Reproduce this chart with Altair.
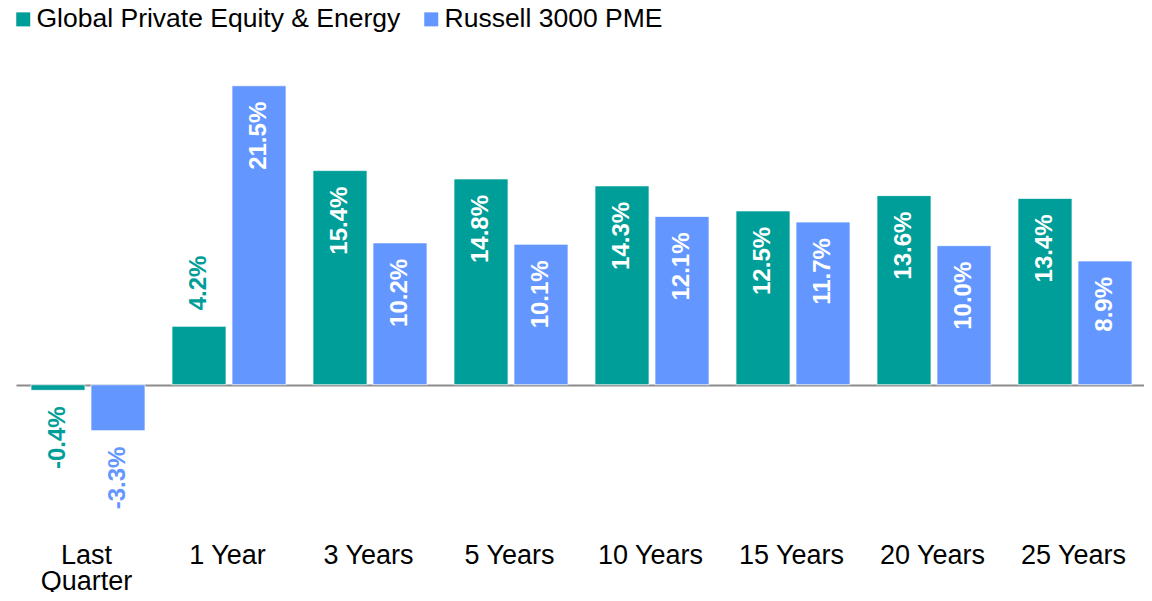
import altair as alt
import pandas as pd

categories = ["Last Quarter", "1 Year", "3 Years", "5 Years", "10 Years", "15 Years", "20 Years", "25 Years"]
series_names = ["Global Private Equity & Energy", "Russell 3000 PME"]
pe_values = [-0.4, 4.2, 15.4, 14.8, 14.3, 12.5, 13.6, 13.4]
pme_values = [-3.3, 21.5, 10.2, 10.1, 12.1, 11.7, 10.0, 8.9]
colors = ["#009E98", "#6397FF"]

rows = []
for c, a, b in zip(categories, pe_values, pme_values):
    rows.append({"cat": c, "series": series_names[0], "value": a})
    rows.append({"cat": c, "series": series_names[1], "value": b})
df = pd.DataFrame(rows)

FONT = "Liberation Sans"

x = alt.X("cat:N", sort=categories,
          scale=alt.Scale(paddingInner=0, paddingOuter=0),
          axis=alt.Axis(title=None, labelAngle=0, domain=False, ticks=False,
                        grid=False, labelFontSize=27, labelFont=FONT, labelColor="#000000",
                        labelPadding=46, labelBaseline="top", labelLineHeight=26,
                        labelExpr="datum.value == 'Last Quarter' ? ['Last', 'Quarter'] : datum.value"))
xo = alt.XOffset("series:N", sort=series_names,
                 scale=alt.Scale(paddingInner=0.1, paddingOuter=0.225, align=0.556))
y = alt.Y("value:Q", scale=alt.Scale(domain=[-8, 24], nice=False, zero=False),
          axis=alt.Axis(values=[0], grid=True, gridColor="#8C8C8C", gridWidth=2,
                        gridOpacity=1, labels=False, ticks=False, domain=False, title=None))
color = alt.Color("series:N", sort=series_names,
                  scale=alt.Scale(domain=series_names, range=colors),
                  legend=alt.Legend(title=None, orient="none", direction="horizontal",
                                    legendX=-6, legendY=-45, padding=0,
                                    symbolType="square", symbolSize=196, symbolStrokeWidth=0,
                                    labelFontSize=26.5, labelFont=FONT, labelColor="#000000",
                                    labelOffset=0, columnPadding=17, labelLimit=600))
series_color = alt.condition(f"datum.series == '{series_names[0]}'",
                             alt.value(colors[0]), alt.value(colors[1]))

base = alt.Chart(df)

bars = base.mark_bar(stroke="white", strokeWidth=1, strokeOpacity=0.7).encode(
    x=x, xOffset=xo, y=y, y2=alt.datum(0), color=color)

lbl = base.transform_calculate(
    label="(datum.value < 0 ? '-' : '') + format(abs(datum.value), '.1f') + '%'")

inside = lbl.transform_filter("datum.value >= 6").mark_text(
    angle=270, align="right", baseline="middle", dx=-16, fontSize=24, fontWeight="bold",
    font=FONT, color="white").encode(x=x, xOffset=xo, y=y, text="label:N")

negative = lbl.transform_filter("datum.value < 0").mark_text(
    angle=270, align="right", baseline="middle", dx=-16, fontSize=24, fontWeight="bold",
    font=FONT).encode(x=x, xOffset=xo, y=y, text="label:N", color=series_color)

outside = lbl.transform_filter("datum.value >= 0 && datum.value < 6").mark_text(
    angle=270, align="left", baseline="middle", dx=16, fontSize=24, fontWeight="bold",
    font=FONT).encode(x=x, xOffset=xo, y=y, text="label:N", color=series_color)

chart = alt.layer(bars, inside, negative, outside).properties(
    width=1128, height=445,
    autosize=alt.AutoSizeParams(type="none"),
    padding={"left": 8, "top": 43, "right": 0, "bottom": 96},
).configure_view(stroke=None)

chart.save("out.html", embed_options={"renderer": "svg", "actions": False})
